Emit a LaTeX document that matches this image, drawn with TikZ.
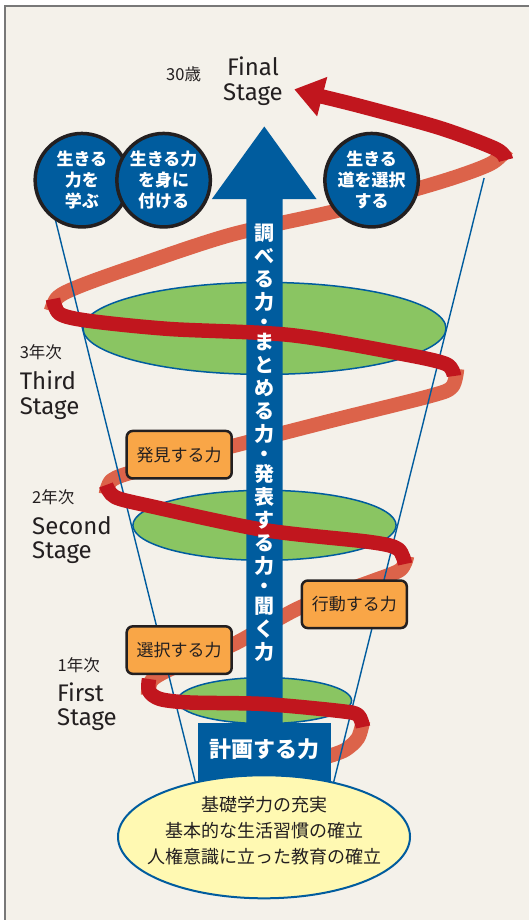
\documentclass[tikz,border=0pt]{standalone}
\usepackage{fontspec}
\setmainfont{Fira Sans}
\newfontfamily\jp{Noto Sans CJK JP}
\usetikzlibrary{shapes.geometric}
\definecolor{bgc}{RGB}{244,241,234}
\definecolor{framec}{RGB}{120,120,120}
\definecolor{bluec}{RGB}{0,92,158}
\definecolor{greenc}{RGB}{138,197,98}
\definecolor{redc}{RGB}{193,22,30}
\definecolor{salmonc}{RGB}{220,99,74}
\definecolor{orangec}{RGB}{249,166,71}
\definecolor{yellowc}{RGB}{255,249,178}
\definecolor{inkc}{RGB}{35,31,32}
\begin{document}
\begin{tikzpicture}[x=1pt,y=-1pt,
  backband/.style={draw=salmonc, line width=14.5, line cap=butt, line join=round},
  frontband/.style={draw=redc, line width=14.5, line cap=butt, line join=round},
  funnel/.style={draw=bluec, line width=1.4},
  stageellipse/.style={draw=bluec, line width=1.5, fill=greenc},
  bubble/.style={circle, fill=bluec, draw=inkc, line width=3.5, minimum size=93.5, inner sep=0, align=center, text=white, font=\jp\bfseries\fontsize{17}{21}\selectfont},
  skillbox/.style={rounded corners=6, fill=orangec, draw=inkc, line width=2.5, minimum width=105, minimum height=47.5, inner sep=0, text=inkc, font=\jp\fontsize{17}{17}\selectfont},
  vtxt/.style={inner sep=0, text height=15.6, text depth=0.4, text=white, font=\jp\bfseries\fontsize{20}{20}\selectfont},
  latinlbl/.style={inner sep=0, text=inkc, font=\fontsize{24}{26}\selectfont},
  yearlbl/.style={inner sep=0, text=inkc, font=\jp\fontsize{16.5}{16.5}\selectfont},
]
\useasboundingbox (0,0) rectangle (529,920);
\fill[white] (0,0) rectangle (529,920);
\fill[bgc] (5,6) rectangle (529,920);
\draw[framec, line width=1.5] (5,920) -- (5,6) -- (529,6);

% back (salmon) strands
\draw[backband] plot[smooth, tension=0.5] coordinates {(326,757) (345,750) (358,738) (363,721)};
\draw[backband] plot[smooth, tension=0.5] coordinates {(148,695) (152,680) (175,667) (232.8,644.6) (300,607.5) (370,582) (400,570) (407,556)};
\draw[backband] plot[smooth, tension=0.5] coordinates {(106,494) (112,480) (140,470) (232.8,446) (330,421) (430,396) (452,387) (457,369)};
\draw[backband] plot[smooth, tension=0.5] coordinates {(51,311) (58,297) (80,286) (130,268) (230,235) (340,210) (440,182) (490,164) (507,149)};

% funnel
\draw[funnel] (50.45,200) -- (197.3,790);
\draw[funnel] (484.1,178) -- (331.7,790);

% stage ellipses
\draw[stageellipse] (264.5,328.4) ellipse [x radius=181.5, y radius=46];
\draw[stageellipse] (264.5,525.3) ellipse [x radius=131.6, y radius=35];
\draw[stageellipse] (264.5,700.6) ellipse [x radius=87.1, y radius=23];

% big blue arrow
\fill[bluec] (246.3,730) -- (246.3,199) -- (211.9,199) -- (264.3,126.5) -- (316.5,199) -- (282.7,199) -- (282.7,730) -- cycle;
\node[fill=bluec, minimum width=132.6, minimum height=67, inner sep=0, anchor=north] (planbox) at (264.3,723) {};

% skill boxes
\node[skillbox] (hakken) at (179.2,454.7) {発見する力};
\node[skillbox] (kodo) at (354.3,604.3) {行動する力};
\node[skillbox] (sentaku) at (179.2,650.1) {選択する力};

% front (dark red) strands
\draw[frontband] plot[smooth, tension=0.5] coordinates {(363,727) (358,715) (340,711) (264,704) (190,702.5) (160,699) (149,691) (149,679)};
\draw[frontband] plot[smooth, tension=0.5] coordinates {(405,564) (398,549) (370,542) (264,530) (150,506) (115,497) (106,485)};
\draw[frontband] plot[smooth, tension=0.5] coordinates {(454,376) (446,364) (400,353.5) (290,335) (170,329) (90,321) (60,314) (53,299)};
\draw[frontband] plot[smooth, tension=0.5] coordinates {(506,160) (496,149) (440,128) (360,106) (318,95.6)};
\fill[redc] (294.5,89.4) -- (327.3,76.9) -- (317.1,116.4) -- cycle;

% vertical text
\foreach \c/\yy [count=\i] in {調/233,べ/256,る/279,力/302,・/322,ま/342,と/365,め/388,る/411,力/434,・/454,発/474,表/497,す/520,る/543,力/566,・/586,聞/606,く/629,力/652}
  \node[vtxt] (v\i) at (264.5,\yy) {\c};
\node[inner sep=0, text=white, font=\jp\bfseries\fontsize{22}{22}\selectfont] (plan) at (264.3,749) {計画する力};

% circles
\node[bubble] (c1) at (81.9,180.2) {生きる\\力を\\学ぶ};
\node[bubble] (c2) at (163.6,180.2) {生きる力\\を身に\\付ける};
\node[bubble] (c3) at (371.6,180.2) {生きる\\道を選択\\する};

% base ellipse
\node[ellipse, draw=bluec, line width=2, fill=yellowc, minimum width=292, minimum height=123, inner sep=0] (base) at (264,836.8) {};
\node[align=center, inner sep=0, text=inkc, font=\jp\fontsize{18}{26}\selectfont] (basetxt) at (264,831) {基礎学力の充実\\基本的な生活習慣の確立\\人権意識に立った教育の確立};

% labels
\node[yearlbl, anchor=base west] (age) at (166,80.5) {30歳};
\node[latinlbl, anchor=base] (fin1) at (253,76) {Final};
\node[latinlbl, anchor=base] (fin2) at (253,100.5) {Stage};
\node[yearlbl, anchor=base west] (y3) at (19.6,358.5) {3年次};
\node[latinlbl, anchor=base west] (s3a) at (19.6,389) {Third};
\node[latinlbl, anchor=base west] (s3b) at (19.6,414) {Stage};
\node[yearlbl, anchor=base west] (y2) at (32,503.5) {2年次};
\node[latinlbl, anchor=base west] (s2a) at (32,534) {Second};
\node[latinlbl, anchor=base west] (s2b) at (32,558.5) {Stage};
\node[yearlbl, anchor=base west] (y1) at (57.4,671.5) {1年次};
\node[latinlbl, anchor=base west] (s1a) at (57,701) {First};
\node[latinlbl, anchor=base west] (s1b) at (57,725) {Stage};
\end{tikzpicture}
\end{document}
